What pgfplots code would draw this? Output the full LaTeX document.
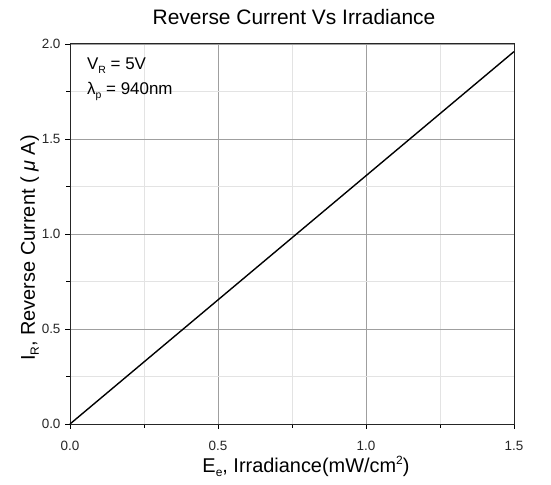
\documentclass[border=0pt]{standalone}
\usepackage{pgfplots}
\pgfplotsset{compat=1.18}
\usepackage{fontspec}
\setmainfont{Liberation Sans}
\begin{document}
\begin{tikzpicture}[x=1bp,y=1bp]
\path[use as bounding box] (-70,-61) rectangle (481,424);
\begin{axis}[
  at={(0,0)}, anchor=south west,
  scale only axis, width=444bp, height=380bp,
  xmin=0, xmax=1.5, ymin=0, ymax=2.0,
  xtick={0,0.5,1.0,1.5}, ytick={0,0.5,1.0,1.5,2.0},
  minor xtick={0.25,0.75,1.25}, minor ytick={0.25,0.75,1.25,1.75},
  xticklabels={0.0,0.5,1.0,1.5}, yticklabels={0.0,0.5,1.0,1.5,2.0},
  tick align=outside, tickpos=left,
  major tick length=5bp, minor tick length=4bp,
  every tick/.style={black, line width=0.7pt},
  grid=both,
  major grid style={gray!75, line width=0.6pt},
  minor grid style={gray!22, line width=0.5pt},
  axis line style={black!85, line width=1pt},
  tick label style={font=\fontsize{13.5}{15}\selectfont, text=black!85},
  xticklabel style={anchor=base, yshift=-21bp},
  yticklabel style={anchor=east, xshift=-1bp},
  /pgf/number format/assume math mode=true,
  xlabel={E\raisebox{-4bp}{\fontsize{12}{12}\selectfont e}, Irradiance(mW/cm\raisebox{8bp}{\fontsize{12}{12}\selectfont 2})},
  ylabel={I\raisebox{-4bp}{\fontsize{12}{12}\selectfont R}, Reverse Current ( \textit{μ} A)},
  label style={font=\fontsize{20}{22}\selectfont},
  xlabel style={at={(axis description cs:0.5,0)}, anchor=base, yshift=-48bp, xshift=14bp},
  ylabel style={at={(axis description cs:0,0.5)}, anchor=base, rotate=0, xshift=-14bp, yshift=35bp},
  clip=false,
]
\addplot[black, line width=1.4pt] coordinates {(0,0) (1.5,1.96)};
\node[anchor=base west, font=\fontsize{17}{19}\selectfont, inner sep=0pt] at (axis cs:0.0574,1.868) {V\raisebox{-4bp}{\fontsize{10.5}{10.5}\selectfont R} = 5V};
\node[anchor=base west, font=\fontsize{17}{19}\selectfont, inner sep=0pt] at (axis cs:0.0574,1.732) {λ\raisebox{-4bp}{\fontsize{10.5}{10.5}\selectfont p} = 940nm};
\node[anchor=base, font=\fontsize{21}{23}\selectfont, inner sep=0pt] at (rel axis cs:0.5,1) [yshift=19bp, xshift=2bp] {Reverse Current Vs Irradiance};
\end{axis}
\end{tikzpicture}
\end{document}
